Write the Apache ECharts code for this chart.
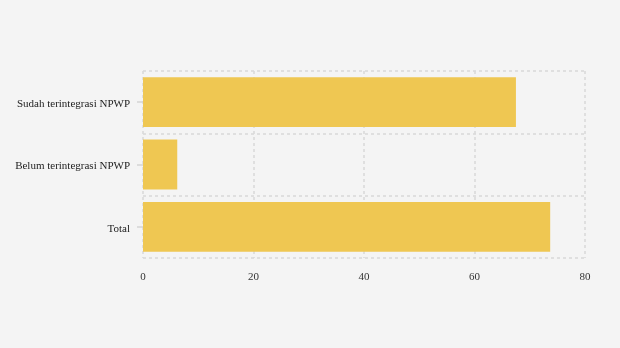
<!DOCTYPE html>
<html><head><meta charset="utf-8">
<script src="https://cdn.jsdelivr.net/npm/echarts@6/dist/echarts.min.js"></script>
<style>html,body{margin:0;padding:0;background:#f4f4f4;}#c{width:620px;height:348px;}</style>
</head><body><div id="c"></div>
<script>
const categories = ["Sudah terintegrasi NPWP", "Belum terintegrasi NPWP", "Total"];
const values = [67.5, 6.2, 73.7];
const xTicks = [0, 20, 40, 60, 80];

const chart = echarts.init(document.getElementById('c'), null, {renderer: 'canvas'});
chart.setOption({
  backgroundColor: '#f4f4f4',
  animation: false,
  grid: {left: 143, right: 35, top: 71, bottom: 90, containLabel: false},
  xAxis: {
    type: 'value', min: xTicks[0], max: xTicks[xTicks.length - 1], interval: 20,
    axisLine: {show: false}, axisTick: {show: false},
    axisLabel: {color: '#333', fontFamily: 'Liberation Serif', fontSize: 11, margin: 14},
    splitLine: {show: true, lineStyle: {color: '#dadada', type: [3, 3], width: 1.6}}
  },
  yAxis: {
    type: 'category', data: categories, inverse: true,
    axisLine: {show: false},
    axisTick: {show: true, alignWithLabel: true, length: 6, lineStyle: {color: '#d4d4d4', width: 1.5}},
    axisLabel: {color: '#222', fontFamily: 'Liberation Serif', fontSize: 11, margin: 13, verticalAlign: 'top', lineHeight: 4},
    splitLine: {show: true, lineStyle: {color: '#dadada', type: [3, 3], width: 1.6}}
  },
  series: [{
    type: 'bar', data: values, barCategoryGap: '20%',
    itemStyle: {color: '#efc752'}
  }]
});
</script></body></html>
